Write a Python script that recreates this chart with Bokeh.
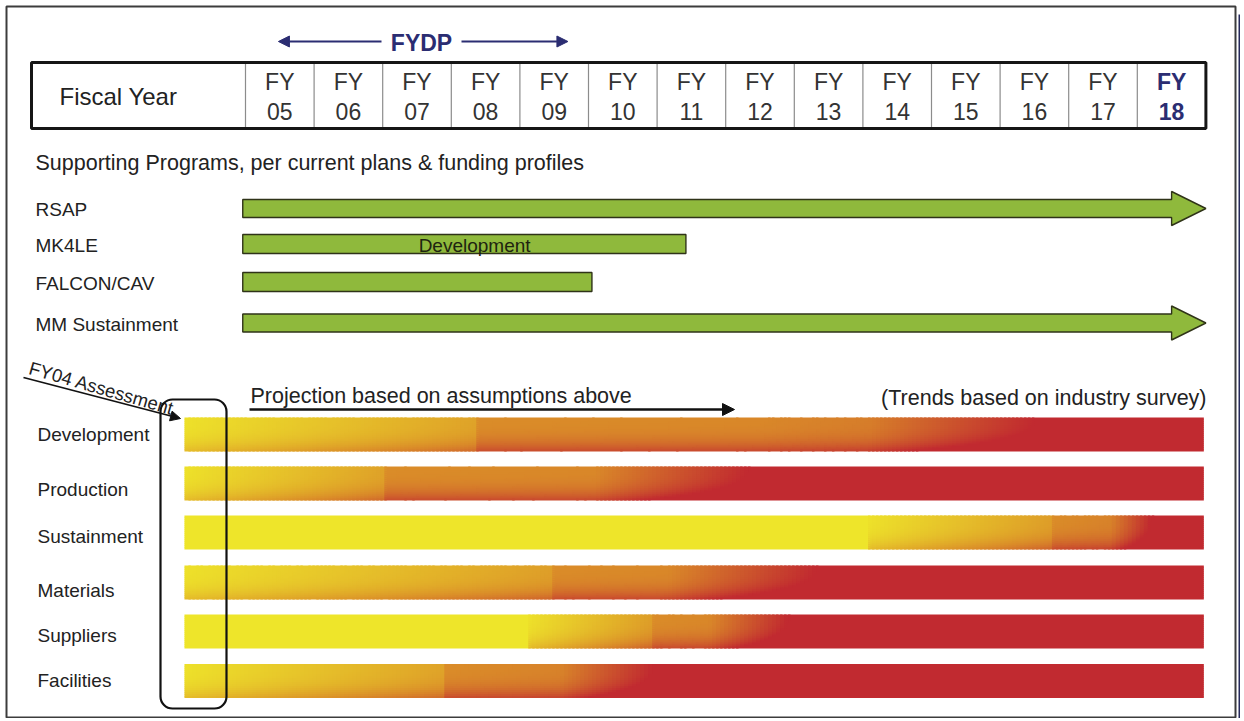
import numpy as np
from bokeh.plotting import figure
from bokeh.models import Range1d, Arrow, NormalHead, BoxAnnotation
from bokeh.core.properties import value
from bokeh.embed import file_html
from bokeh.resources import INLINE

# ------------------------------------------------------------------ data
fiscal_years = ["05", "06", "07", "08", "09", "10", "11", "12", "13", "14", "15", "16", "17", "18"]
first_fy = 5                     # FY05 column starts at x = 5
fydp_from, fydp_to = 5.48, 9.7   # FYDP arrow span (fiscal-year units)

programs = ["RSAP", "MK4LE", "FALCON/CAV", "MM Sustainment"]
program_start = [4.96, 4.96, 4.96, 4.96]
program_end = [19.0, 11.42, 10.05, 19.0]
program_continues = [True, False, False, True]
program_note = ["", "Development", "", ""]

risk_areas = ["Development", "Production", "Sustainment", "Materials", "Suppliers", "Facilities"]
# risk level knots (0 = yellow / low, 1 = orange / medium, 2 = red / high); repeated year = step
dev_fy = [4.11, 8.38, 8.38, 12.51, 14.1, 16.5, 18.97]
dev_lvl = [0.05, 0.75, 1.0, 1.05, 1.15, 2.0, 2.0]
prod_fy = [4.11, 7.0, 7.0, 10.1, 12.32, 18.97]
prod_lvl = [0.05, 0.75, 1.0, 1.05, 2.0, 2.0]
sus_fy = [4.11, 14.08, 14.08, 16.73, 16.73, 17.61, 18.19, 18.97]
sus_lvl = [0.0, 0.0, 0.05, 0.8, 1.0, 1.1, 2.0, 2.0]
mat_fy = [4.11, 9.5, 9.5, 11.17, 13.32, 18.97]
mat_lvl = [0.05, 0.8, 1.0, 1.05, 2.0, 2.0]
sup_fy = [4.11, 9.1, 9.1, 10.9, 10.9, 11.76, 12.9, 18.97]
sup_lvl = [0.0, 0.0, 0.05, 0.8, 1.0, 1.05, 2.0, 2.0]
fac_fy = [4.11, 7.92, 7.92, 9.61, 10.93, 18.97]
fac_lvl = [0.05, 0.75, 1.0, 1.1, 2.0, 2.0]
risk_fy = [dev_fy, prod_fy, sus_fy, mat_fy, sup_fy, fac_fy]
risk_lvl = [dev_lvl, prod_lvl, sus_lvl, mat_lvl, sup_lvl, fac_lvl]
trend_start, trend_end = 4.11, 18.97

# ------------------------------------------------------------------ layout
W, H = 1240, 718
PX0, COL = 245.0, 68.6          # screen x of FY05 start, width of one year


def fy(px):
    return first_fy + (px - PX0) / COL


def yy(py):
    return H - py


FONT = value("Liberation Sans")
NAVY = "#2b2d72"
GREEN = "#8fb93c"
YELLOW = (238, 229, 42)
ORANGE = (218, 140, 41)
RED = (193, 42, 48)

p = figure(width=W, height=H, output_backend="svg", toolbar_location=None,
           x_range=Range1d(fy(0), fy(W)), y_range=Range1d(0, H),
           x_axis_type=None, y_axis_type=None, min_border=0,
           background_fill_color="white", border_fill_color="white")
p.grid.visible = False
p.outline_line_color = None

# page frame and right edge strip
p.quad(left=[fy(6)], right=[fy(1235)], top=[yy(6)], bottom=[yy(717)],
       fill_color=None, line_color="#3c3c3c", line_width=2)
p.quad(left=[fy(1238)], right=[fy(1246)], top=[yy(14)], bottom=[yy(722)],
       fill_color="#262a5c", line_color=None)


def txt(x, y, t, size, color="#222222", align="left", style="normal", angle=0.0, baseline="middle"):
    p.text(x=x, y=[yy(v) for v in y], text=t, text_font=FONT, text_font_size=value(size),
           text_color=color, text_align=align, text_baseline=baseline,
           text_font_style=style, angle=angle)


def arrow(x0, y0, x1, y1, color, width, size):
    p.add_layout(Arrow(end=NormalHead(size=size, fill_color=color, line_color=color),
                       x_start=x0, y_start=yy(y0), x_end=x1, y_end=yy(y1),
                       line_color=color, line_width=width))


# ---- FYDP
arrow(fy(381), 41, fydp_from, 41, NAVY, 2, 11)
arrow(fy(461), 41, fydp_to, 41, NAVY, 2, 11)
txt([(fy(381) + fy(461)) / 2], [42], ["FYDP"], "23px", color=NAVY, align="center", style="bold")

# ---- header table
n = len(fiscal_years)
tab_top, tab_bot = 62, 128
col_left = [first_fy + i for i in range(n)]
p.segment(x0=col_left, y0=[yy(tab_top)] * n, x1=col_left, y1=[yy(tab_bot)] * n,
          line_color="#8c8c8c", line_width=1.2)
p.quad(left=[fy(31)], right=[first_fy + n], top=[yy(tab_top)], bottom=[yy(tab_bot)],
       fill_color=None, line_color="#161616", line_width=3)
txt([fy(59)], [96], ["Fiscal Year"], "24px")
centers = [c + 0.5 for c in col_left]
colors = ["#333333"] * (n - 1) + [NAVY]
styles = ["normal"] * (n - 1) + ["bold"]
for c, lab, col, st in zip(centers, fiscal_years, colors, styles):
    txt([c], [81], ["FY"], "23px", color=col, align="center", style=st)
    txt([c], [111], [lab], "23px", color=col, align="center", style=st)

# ---- supporting programs
txt([fy(35)], [162], ["Supporting Programs, per current plans & funding profiles"], "21.5px")
prog_y = [208, 243.5, 281.5, 322.5]
xs, ys = [], []
for s, e, cont, yc in zip(program_start, program_end, program_continues, prog_y):
    if cont:
        hs = e - 0.5
        xs.append([s, hs, hs, e, hs, hs, s])
        ys.append([yy(v) for v in [yc - 9, yc - 9, yc - 17, yc, yc + 17, yc + 9, yc + 9]])
    else:
        xs.append([s, e, e, s])
        ys.append([yy(v) for v in [yc - 9.5, yc - 9.5, yc + 9.5, yc + 9.5]])
p.patches(xs, ys, fill_color=GREEN, line_color="#2f3318", line_width=1.4)
txt([fy(35)] * len(programs), [y + 1 for y in prog_y], programs, "19px")
for s, e, note, yc in zip(program_start, program_end, program_note, prog_y):
    if note:
        txt([(s + e) / 2 + 0.15], [yc + 1], [note], "19px", color="#1e2410", align="center")

# ---- risk trend bars (shaded cells, merged where colour repeats)
bar_y = [434, 483, 532, 582, 631, 680.5]
bar_h = 34
ncell, nband = 255, 17
edges = np.linspace(trend_start, trend_end, ncell + 1)
xc = 0.5 * (edges[:-1] + edges[1:])
band_h = bar_h / nband
stops = [0.0, 1.0, 2.0]
eps = 0.6 * (edges[1] - edges[0])
L, R, T, B, C = [], [], [], [], []
for kfy, klv, yc in zip(risk_fy, risk_lvl, bar_y):
    lvl = np.interp(xc, kfy, klv)
    sh = np.where(lvl > 0, 0.42 + 0.25 * np.minimum(lvl, 1.0), 0.0)
    top0 = yc - bar_h / 2
    for b in range(nband):
        v = (b + 0.5) / nband            # 0 = top of bar, 1 = bottom
        t = np.clip(lvl + sh * v ** 3.0, 0, 2)
        rgb = [np.interp(t, stops, [YELLOW[c], ORANGE[c], RED[c]]).round().astype(int) for c in range(3)]
        cols = ["#%02x%02x%02x" % (rgb[0][i], rgb[1][i], rgb[2][i]) for i in range(ncell)]
        s = 0
        for i in range(1, ncell + 1):
            if i == ncell or cols[i] != cols[s]:
                L.append(edges[s])
                R.append(min(edges[i] + (eps if i < ncell else 0), trend_end))
                T.append(yy(top0 + b * band_h))
                B.append(yy(min(top0 + (b + 1) * band_h + 0.6, top0 + bar_h)))
                C.append(cols[s])
                s = i
p.quad(left=L, right=R, top=T, bottom=B, fill_color=C, line_color=None)

label_y = [434, 489, 536, 590, 635, 680]
txt([fy(37)] * len(risk_areas), label_y, risk_areas, "19px")

# FY04 assessment box and arrow
p.add_layout(BoxAnnotation(left=fy(160), right=fy(226), top=yy(399), bottom=yy(708),
                           fill_alpha=0, line_color="#111111", line_alpha=1.0, line_width=2.2,
                           border_radius=12))
arrow(fy(23), 377, fy(180), 418, "#111111", 1.8, 10)
txt([fy(29)], [367], ["FY04 Assessment"], "18.5px", angle=-0.28, baseline="alphabetic")

# projection arrow
arrow(fy(249), 409, fy(734), 409, "#111111", 2.5, 12)
txt([fy(250)], [395], ["Projection based on assumptions above"], "21.5px")
txt([fy(1206)], [397], ["(Trends based on industry survey)"], "21.5px", align="right")

open("out.html", "w").write(file_html(p, INLINE))
